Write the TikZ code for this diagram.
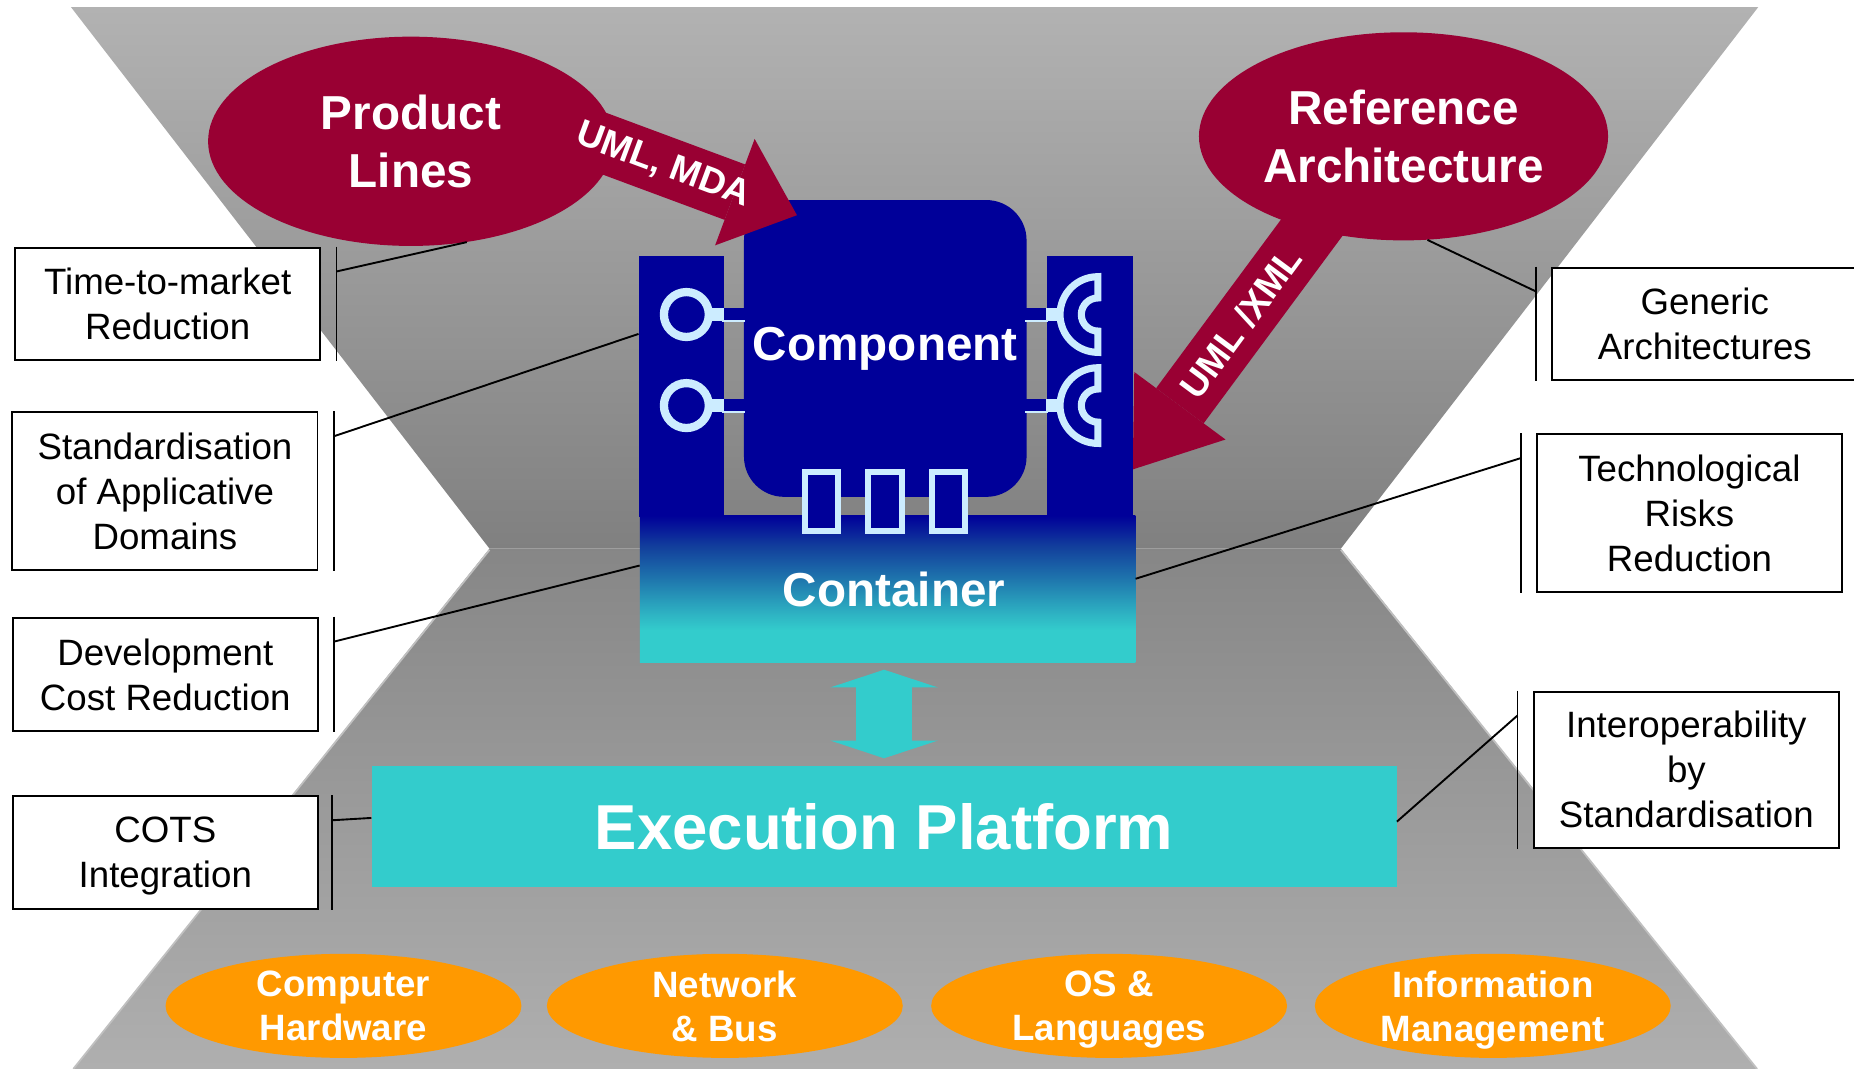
\documentclass[tikz,border=0pt]{standalone}
\usepackage{fontspec}
\setmainfont{Liberation Sans}
\usetikzlibrary{shapes.geometric,arrows.meta,calc}
\definecolor{bgLight}{RGB}{178,178,178}
\definecolor{bgDark}{RGB}{128,128,128}
\definecolor{bgLow}{RGB}{175,175,175}
\definecolor{bgRim}{RGB}{192,192,192}
\definecolor{archRed}{RGB}{153,0,51}
\definecolor{compBlue}{RGB}{0,0,153}
\definecolor{plugBlue}{RGB}{204,236,255}
\definecolor{platTeal}{RGB}{51,204,204}
\definecolor{layerOrange}{RGB}{255,153,0}
\definecolor{contA}{RGB}{18,63,156}
\definecolor{contB}{RGB}{31,120,174}
\definecolor{contC}{RGB}{46,179,195}
\pgfdeclareverticalshading{contshade}{100bp}{color(0bp)=(platTeal); color(36bp)=(platTeal);
  color(41.5bp)=(contC); color(53bp)=(contB); color(64.5bp)=(contA); color(75bp)=(compBlue);
  color(100bp)=(compBlue)}
\tikzset{
  gain/.style={rectangle,draw=black,line width=1.6pt,fill=white,
    minimum width=258pt,minimum height=#1,inner sep=0pt,align=center,text depth=0pt,
    anchor=north west,font=\fontsize{31}{38}\selectfont},
  gain/.default=95pt,
  tie/.style={draw=black,line width=1.6pt},
  topic/.style={ellipse,fill=archRed,inner sep=0pt,align=center,text=white,
    font=\bfseries\fontsize{40.3}{49}\selectfont},
  layer/.style={ellipse,fill=layerOrange,minimum width=301pt,minimum height=88pt,
    inner sep=0pt,align=center,text depth=0pt,text=white,
    font=\bfseries\fontsize{31}{37}\selectfont},
  blockarrow/.style={draw=archRed,line width=50pt,shorten <=-40pt,
    -{Triangle[length=#1,width=96pt,line width=0pt]}},
  arrowtext/.style={sloped,text=white,font=\bfseries\fontsize{31}{37}\selectfont},
  part/.style={rectangle,fill=compBlue,inner sep=0pt,anchor=north west},
  title/.style={text=white,font=\bfseries\fontsize{40.3}{49}\selectfont},
  plug/.style={draw=plugBlue,line width=6pt}
}
\begin{document}
\begin{tikzpicture}[x=1pt,y=-1pt]
  \clip (0,0) rectangle (1568,904);
  \shade[top color=bgLight,bottom color=bgDark] (60,6) -- (1487,6) -- (1134,464) -- (414,464) -- cycle;
  \shade[top color=bgDark!95!white,bottom color=bgLow] (414,464) -- (1134,464) -- (1486,904) -- (62,904) -- cycle;
  \draw[bgRim,line width=1.5pt] (414,465) -- (62,904) (1134,465) -- (1486,904);

  \node[topic,minimum width=343pt,minimum height=177pt] (pl) at (347.5,119.5) {Product\\Lines};
  \node[topic,minimum width=346pt,minimum height=176pt] (ra) at (1187,115.3) {Reference\\Architecture};
  \coordinate (raTip) at (958,397);
  \draw[blockarrow=67pt] (ra.-135) -- node[arrowtext,pos=0.39] {UML /XML} (raTip);

  \node[part,minimum width=72pt,minimum height=221pt] (lcol) at (540,216) {};
  \node[part,minimum width=73pt,minimum height=221pt] (rcol) at (885,216) {};
  \node[part,title,rounded corners=34pt,minimum width=239pt,minimum height=251pt] (comp) at (629,169) {Component};
  \node[part,title,shading=contshade,minimum width=419pt,minimum height=124pt] (cont) at (541,436) {\hspace*{11pt}Container};

  \foreach \y in {266,343}{
    \fill[compBlue] (611,\y-5.5) rectangle (630,\y+5.5);
    \draw[plugBlue,line width=1pt] (611,\y+5.5) -- (630,\y+5.5);
    \fill[plugBlue] (598,\y-5.5) rectangle (612,\y+5.5);
    \draw[plug,line width=7pt] (580.5,\y) circle (19pt);
    \fill[compBlue] (867,\y-5.5) rectangle (886,\y+5.5);
    \draw[plugBlue,line width=1pt] (867,\y+5.5) -- (886,\y+5.5);
    \fill[plugBlue] (885,\y-5.5) rectangle (900,\y+5.5);
    \draw[plug,fill=compBlue] (928.5,\y-32) arc[start angle=90,end angle=270,radius=32pt]
      -- (928.5,\y+14) arc[start angle=270,end angle=90,radius=14pt] -- cycle;
  }
  \foreach \x in {680.5,734,788}
    \draw[plug,line width=5pt,fill=compBlue] (\x,399.5) rectangle ++(28.5,49.5);

  \coordinate (plTip) at (674,182);
  \draw[blockarrow=56pt] ([yshift=-5pt]pl.east) -- node[arrowtext,pos=0.27] {UML, MDA} (plTip);

  \node[part,fill=platTeal,minimum width=867pt,minimum height=103pt,text=white,
    font=\bfseries\fontsize{53.7}{60}\selectfont] (ep) at (314,647.3) {Execution Platform};
  \draw[platTeal,line width=47pt,shorten <=6pt,shorten >=6pt,
    {Triangle[length=15pt,width=91pt,line width=0pt]}-{Triangle[length=15pt,width=91pt,line width=0pt]}]
    (ep.north |- cont.south) -- (ep.north);

  \node[layer] (hw) at (290.5,850.7) {Computer\\Hardware};
  \node[layer] (net) at (613,850.7) {Network\\\& Bus};
  \node[layer] (os) at (938,850.7) {OS \&\\Languages};
  \node[layer] (info) at (1262.5,850.7) {Information\\Management};

  \node[gain] (ttm) at (12,208.6) {Time-to-market\\Reduction};
  \node[gain=133pt] (std) at (9.7,348) {Standardisation\\of Applicative\\Domains};
  \node[gain=96pt] (dev) at (10,521.6) {Development\\Cost Reduction};
  \node[gain] (cots) at (10,672.7) {COTS\\Integration};
  \node[gain] (gen) at (1312,225.5) {Generic\\Architectures};
  \node[gain=133pt] (tech) at (1299,366.5) {Technological\\Risks\\Reduction};
  \node[gain=132pt] (iop) at (1296.4,584.1) {Interoperability\\by\\Standardisation};

  \foreach \b/\d in {ttm/13,std/13,dev/13,cots/11.5}
    \draw[tie] ([xshift=\d pt]\b.north east) -- ([xshift=\d pt]\b.south east);
  \foreach \b in {gen,tech,iop}
    \draw[tie] ([xshift=-13pt]\b.north west) -- ([xshift=-13pt]\b.south west);

  \draw[tie] ([shift={(13,21)}]ttm.north east) -- (pl.-61);
  \draw[tie] ([shift={(13,21)}]std.north east) -- ($(lcol.north west)!0.3!(lcol.south west)$);
  \draw[tie] ([shift={(13,21)}]dev.north east) -- ($(cont.north west)!0.34!(cont.south west)$);
  \draw[tie] ([shift={(11.5,21)}]cots.north east) -- ($(ep.north west)!0.43!(ep.south west)$);
  \draw[tie] ([shift={(-13,21)}]gen.north west) -- (ra.-77);
  \draw[tie] ([shift={(-13,21)}]tech.north west) -- ($(cont.north east)!0.43!(cont.south east)$);
  \draw[tie] ([shift={(-13,21)}]iop.north west) -- ($(ep.north east)!0.46!(ep.south east)$);
\end{tikzpicture}
\end{document}
